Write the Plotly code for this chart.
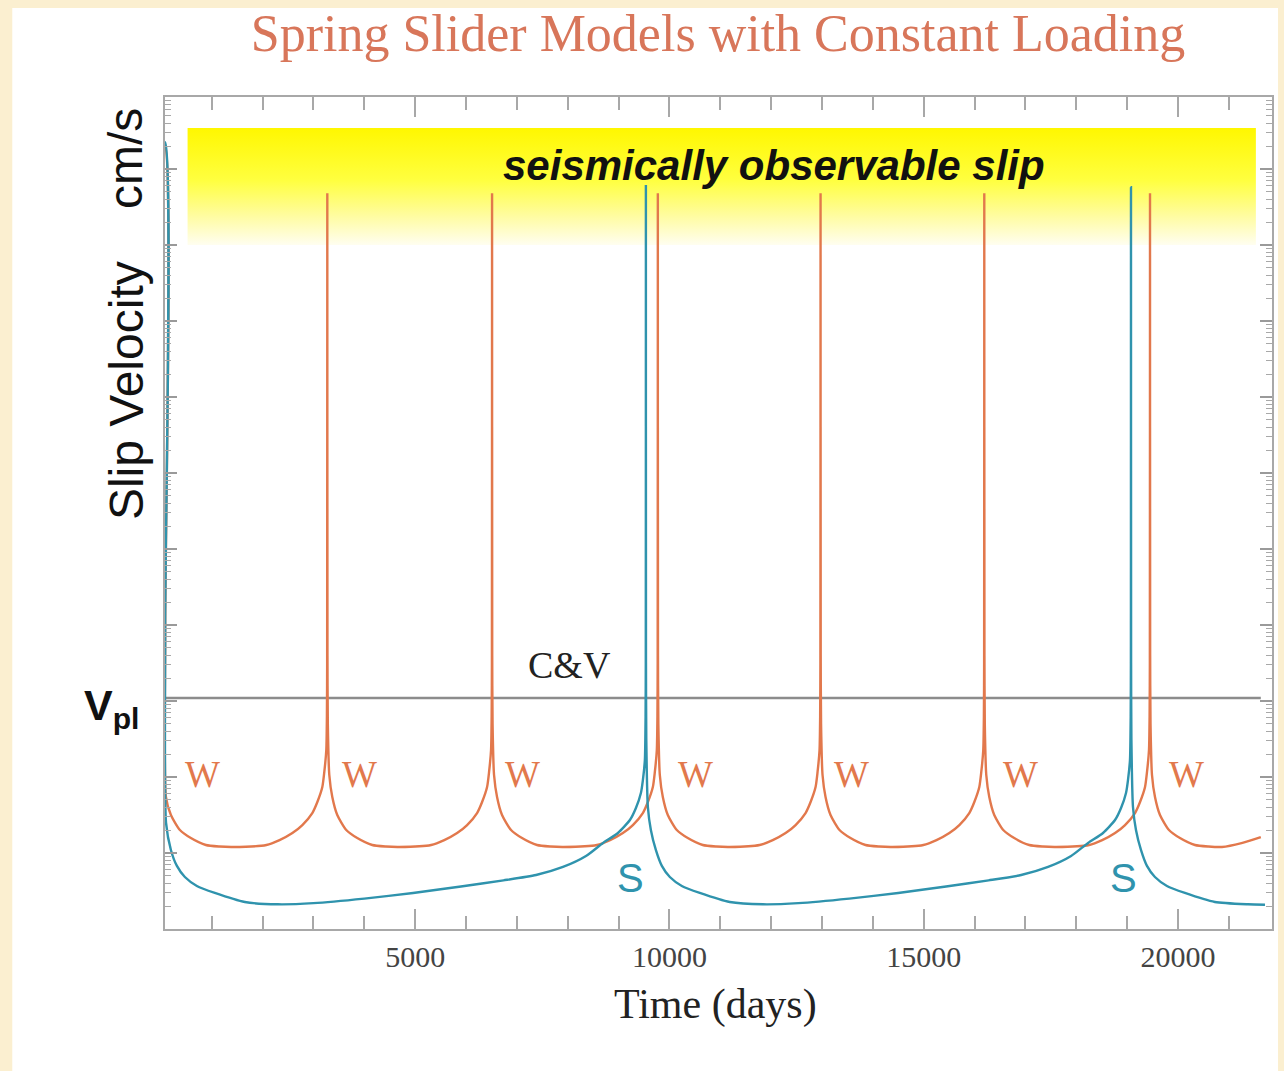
import plotly.graph_objects as go

# ---- data (time in days, slip velocity as log10 of cm/s) ----
# W: weakening model, recurring events roughly every 3200 days
time_w = [0, 80, 84, 98, 196, 373, 589, 884, 1150, 1414,
          2074, 2332, 2585, 2781, 2977, 3076, 3174, 3213, 3252, 3264, 3269, 3272,
          3275, 3282, 3311, 3370, 3468, 3645, 3861, 4156, 4422, 4686,
          5314, 5572, 5825, 6021, 6217, 6316, 6414, 6453, 6492, 6504, 6509, 6512,
          6515, 6522, 6551, 6610, 6708, 6885, 7101, 7396, 7662, 7926,
          8574, 8832, 9085, 9281, 9477, 9576, 9674, 9713, 9752, 9764, 9769, 9772,
          9775, 9782, 9811, 9870, 9968, 10145, 10361, 10656, 10922, 11186,
          11774, 12032, 12285, 12481, 12677, 12776, 12874, 12913, 12952, 12964, 12969, 12972,
          12975, 12982, 13011, 13070, 13168, 13345, 13561, 13856, 14122, 14386,
          14994, 15252, 15505, 15701, 15897, 15996, 16094, 16133, 16172, 16184, 16189, 16192,
          16195, 16202, 16231, 16290, 16388, 16565, 16781, 17076, 17342, 17606,
          18253, 18511, 18764, 18960, 19156, 19255, 19353, 19392, 19431, 19443, 19448, 19451,
          19454, 19461, 19490, 19549, 19647, 19824, 20040, 20335, 20601, 20865,
          21250, 21630]
logv_w = [0.30, 0.30, -6.0, -8.263, -8.50, -8.697, -8.803, -8.895, -8.915, -8.921,
          -8.895, -8.83, -8.737, -8.632, -8.474, -8.329, -8.132, -7.934, -7.645, -7.2, -6.5, -0.32,
          -6.4, -7.3, -7.974, -8.263, -8.50, -8.697, -8.803, -8.895, -8.915, -8.921,
          -8.895, -8.83, -8.737, -8.632, -8.474, -8.329, -8.132, -7.934, -7.645, -7.2, -6.5, -0.32,
          -6.4, -7.3, -7.974, -8.263, -8.50, -8.697, -8.803, -8.895, -8.915, -8.921,
          -8.895, -8.83, -8.737, -8.632, -8.474, -8.329, -8.132, -7.934, -7.645, -7.2, -6.5, -0.32,
          -6.4, -7.3, -7.974, -8.263, -8.50, -8.697, -8.803, -8.895, -8.915, -8.921,
          -8.895, -8.83, -8.737, -8.632, -8.474, -8.329, -8.132, -7.934, -7.645, -7.2, -6.5, -0.32,
          -6.4, -7.3, -7.974, -8.263, -8.50, -8.697, -8.803, -8.895, -8.915, -8.921,
          -8.895, -8.83, -8.737, -8.632, -8.474, -8.329, -8.132, -7.934, -7.645, -7.2, -6.5, -0.32,
          -6.4, -7.3, -7.974, -8.263, -8.50, -8.697, -8.803, -8.895, -8.915, -8.921,
          -8.895, -8.83, -8.737, -8.632, -8.474, -8.329, -8.132, -7.934, -7.645, -7.2, -6.5, -0.32,
          -6.4, -7.3, -7.974, -8.263, -8.50, -8.697, -8.803, -8.895, -8.915, -8.921,
          -8.87, -8.79]

# S: strengthening model, events roughly every 9540 days
time_s = [0, 80, 84, 100, 196, 314, 471, 707, 1060, 1650, 2300, 3000,
          4000, 4959, 5900, 6737, 7377, 7907, 8359, 8693, 8987, 9223, 9341,
          9439, 9478, 9517, 9531, 9535, 9537,
          9539, 9545, 9576, 9635, 9733, 9851, 10008, 10244, 10597, 11187, 11837, 12537,
          13537, 14499, 15440, 16277, 16917, 17447, 17899, 18233, 18527, 18763, 18881,
          18979, 19018, 19057, 19071, 19075, 19077,
          19079, 19085, 19116, 19175, 19273, 19391, 19548, 19784, 20137, 20727, 21377, 21712]
logv_s = [0.35, 0.35, -6.0, -8.60, -8.96, -9.17, -9.316, -9.434, -9.526, -9.645, -9.675, -9.66,
          -9.60, -9.526, -9.44, -9.36, -9.29, -9.184, -9.04, -8.868, -8.737, -8.566, -8.408,
          -8.21, -8.04, -7.776, -7.2, -6.5, -0.21,
          -6.5, -7.5, -8.395, -8.697, -8.96, -9.17, -9.316, -9.434, -9.526, -9.645, -9.675, -9.66,
          -9.60, -9.526, -9.44, -9.36, -9.29, -9.184, -9.04, -8.868, -8.737, -8.566, -8.408,
          -8.21, -8.04, -7.776, -7.2, -6.5, -0.24,
          -6.5, -7.5, -8.395, -8.697, -8.96, -9.17, -9.316, -9.434, -9.526, -9.645, -9.675, -9.68]

vpl_log = -6.96
vpl_span = [80, 21630]

seismic_time = [524, 21533]
seismic_logv = [-1.0, 0.54]

w_label_time = [819, 3902, 7102, 10519, 13582, 16901, 20160]
s_label_time = [9243, 18923]

xtick_vals = [5000, 10000, 15000, 20000]

SERIF = "Liberation Serif, Times New Roman, serif"
SANS = "Liberation Sans, Arial, sans-serif"
ORANGE = "#e2784c"
TEAL = "#2f93ad"


def lin(vals):
    return [10 ** v for v in vals]


fig = go.Figure()

# band of seismically observable slip rates, fading downward
bx0, bx1 = seismic_time
by0, by1 = lin(seismic_logv)
fig.add_trace(go.Scatter(
    x=[bx0, bx1, bx1, bx0, bx0], y=[by0, by0, by1, by1, by0],
    mode="lines", line=dict(width=0), fill="toself",
    fillgradient=dict(type="vertical",
                      colorscale=[[0, "#fffef0"], [0.25, "#fffca0"],
                                  [0.55, "#ffff40"], [1, "#fff700"]]),
    hoverinfo="skip", showlegend=False))

# plate loading rate
fig.add_trace(go.Scatter(
    x=vpl_span, y=[10 ** vpl_log] * 2, mode="lines",
    line=dict(color="#8c8c8c", width=2.5), showlegend=False))

fig.add_trace(go.Scatter(
    x=time_w, y=lin(logv_w), mode="lines",
    line=dict(color=ORANGE, width=2.4, shape="spline", smoothing=0.6), showlegend=False))

fig.add_trace(go.Scatter(
    x=time_s, y=lin(logv_s), mode="lines",
    line=dict(color=TEAL, width=2.4, shape="spline", smoothing=0.6), showlegend=False))

annotations = []
w_logv = -7.97
for t in w_label_time:
    annotations.append(dict(x=t, y=w_logv, xref="x", yref="y", text="W",
                            showarrow=False, font=dict(family=SERIF, size=37, color=ORANGE)))
for t in s_label_time:
    annotations.append(dict(x=t, y=-9.33, xref="x", yref="y", text="S",
                            showarrow=False, font=dict(family=SANS, size=40, color=TEAL)))
annotations.append(dict(x=8044, y=-6.53, xref="x", yref="y", text="C&amp;V",
                        showarrow=False, font=dict(family=SERIF, size=38, color="#222")))
annotations.append(dict(x=12053, y=0.05, xref="x", yref="y",
                        text="<b><i>seismically observable slip</i></b>",
                        showarrow=False, font=dict(family=SANS, size=42, color="#111")))

# axis titles placed by pixel offsets around the plot area
PW, PH = 1109, 832
annotations.append(dict(x=(716 - 165) / PW, y=-(1005 - 929) / PH, xref="paper", yref="paper",
                        text="Time (days)", showarrow=False, yanchor="middle",
                        font=dict(family=SERIF, size=42, color="#222")))
annotations.append(dict(x=(126 - 165) / PW, y=(929 - 391) / PH, xref="paper", yref="paper",
                        text="Slip Velocity", textangle=-90, showarrow=False,
                        xanchor="center", yanchor="middle",
                        font=dict(family=SANS, size=48, color="#111")))
annotations.append(dict(x=(126 - 165) / PW, y=(929 - 159) / PH, xref="paper", yref="paper",
                        text="cm/s", textangle=-90, showarrow=False,
                        xanchor="center", yanchor="middle",
                        font=dict(family=SANS, size=48, color="#111")))
annotations.append(dict(x=(111 - 165) / PW, y=(929 - 708) / PH, xref="paper", yref="paper",
                        text="<b>V<sub>pl</sub></b>", showarrow=False,
                        xanchor="center", yanchor="middle",
                        font=dict(family=SANS, size=43, color="#111")))

fig.update_layout(
    width=1284, height=1071, autosize=False,
    margin=dict(l=165, r=10, t=97, b=142),
    paper_bgcolor="#fbefd0", plot_bgcolor="white",
    title=dict(text="Spring Slider Models with Constant Loading",
               x=718 / 1284, xanchor="center", y=1 - 33 / 1071, yanchor="middle",
               font=dict(family=SERIF, size=52, color="#d8765a")),
    annotations=annotations,
    shapes=[dict(type="rect", xref="paper", yref="paper",
                 x0=(12 - 165) / PW, x1=(1280 - 165) / PW,
                 y0=-(1080 - 929) / PH, y1=(929 - 8) / PH,
                 fillcolor="white", line=dict(width=0), layer="below")],
)

fig.update_xaxes(
    range=[80, 21850], showgrid=False, zeroline=False,
    showline=True, linecolor="#a8a8a8", linewidth=2, mirror="allticks",
    ticks="inside", ticklen=20, tickwidth=1.5, tickcolor="#a8a8a8",
    tickvals=xtick_vals, ticktext=[str(v) for v in xtick_vals],
    tickfont=dict(family=SERIF, size=30, color="#444"),
    minor=dict(dtick=1000, tick0=0, ticks="inside", ticklen=13, tickwidth=1.5,
               tickcolor="#a8a8a8", showgrid=False),
)
fig.update_yaxes(
    type="log", range=[-10, 0.947], showgrid=False, zeroline=False,
    showline=True, linecolor="#a8a8a8", linewidth=2, mirror="allticks",
    ticks="inside", ticklen=12, tickwidth=1.5, tickcolor="#9a9a9a", dtick=1,
    showticklabels=False,
    minor=dict(ticks="inside", ticklen=6, tickwidth=1, tickcolor="#a8a8a8",
               dtick="D1", showgrid=False),
)

fig.write_html("out.html")
